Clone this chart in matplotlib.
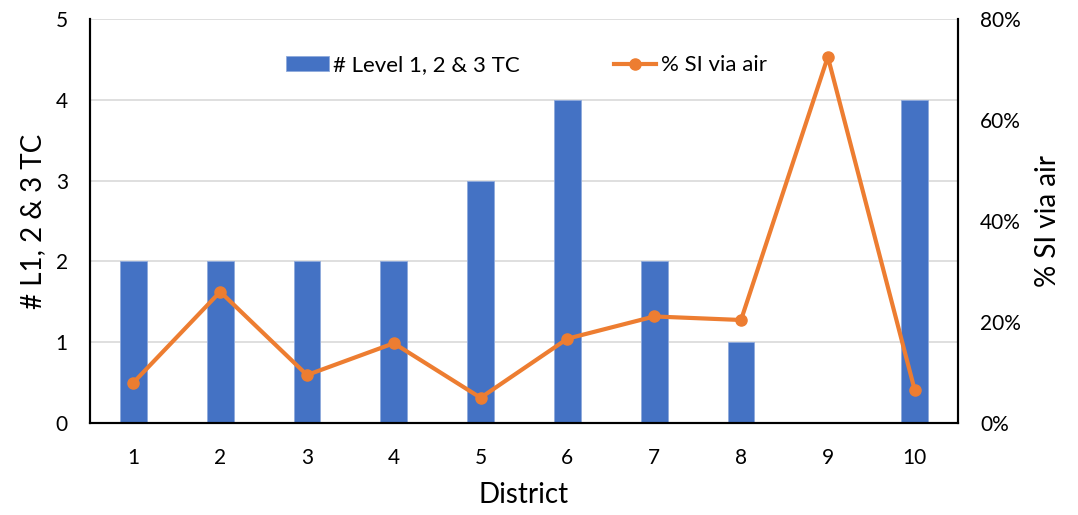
import numpy as np
import matplotlib.pyplot as plt
from matplotlib.ticker import PercentFormatter

plt.rcParams['font.family'] = ['Lato', 'DejaVu Sans']

districts = [1, 2, 3, 4, 5, 6, 7, 8, 9, 10]
tc_count = [2, 2, 2, 2, 3, 4, 2, 1, 0, 4]
si_air_pct = [8.0, 26.0, 9.5, 15.8, 5.0, 16.7, 21.1, 20.4, 72.5, 6.6]

blue = '#4472C4'
orange = '#ED7D31'

fig = plt.figure(figsize=(10.78, 5.15), dpi=100)
ax = fig.add_axes([0.0835, 0.1786, 0.8052, 0.7845])
ax2 = ax.twinx()

x = np.array(districts)
ax.bar(x, tc_count, width=0.31, color=blue, edgecolor='#8FAADC', linewidth=0.6,
       label='# Level 1, 2 & 3 TC', zorder=2)
ax2.plot(x, si_air_pct, color=orange, lw=3, marker='o', markersize=8,
         label='% SI via air', zorder=3)

ax.set_xlim(0.5, 10.5)
ax.set_ylim(0, 5)
ax2.set_ylim(0, 80)
ax.set_xticks(x)
ax.set_yticks(range(6))
ax2.set_yticks([0, 20, 40, 60, 80])
ax2.yaxis.set_major_formatter(PercentFormatter(decimals=0))

ax.grid(axis='y', color='#D9D9D9', lw=1.2, zorder=0)
ax.set_axisbelow(True)

for a in (ax, ax2):
    a.spines['top'].set_visible(False)
    for s in ('left', 'right', 'bottom'):
        a.spines[s].set_color('black')
        a.spines[s].set_linewidth(1.5)
    a.tick_params(length=0, labelsize=15)
ax.tick_params(axis='y', pad=16)
ax.tick_params(axis='x', pad=18)
ax2.tick_params(axis='y', pad=16)

ax.set_xlabel('District', fontsize=20, labelpad=10)
ax.set_ylabel('# L1, 2 & 3 TC', fontsize=20, labelpad=7)
ax2.set_ylabel('% SI via air', fontsize=20, labelpad=10)

h1, l1 = ax.get_legend_handles_labels()
h2, l2 = ax2.get_legend_handles_labels()
ax2.legend(h1 + h2, l1 + l2, loc='center', bbox_to_anchor=(0.503, 0.885), ncol=2,
           frameon=False, fontsize=16, handlelength=1.9, handletextpad=0.2,
           columnspacing=4.25)

fig.savefig('out.png', dpi=100)
